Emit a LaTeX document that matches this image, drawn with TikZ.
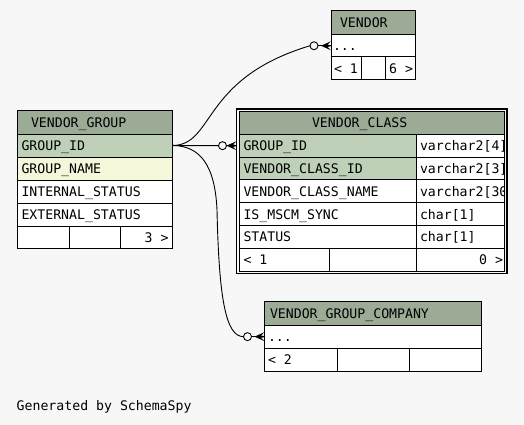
\documentclass[tikz,border=0pt]{standalone}
\usepackage{fontspec}
\newfontfamily\dmono{DejaVu Sans Mono}
\usetikzlibrary{calc}
\definecolor{bg}{HTML}{F7F7F7}
\definecolor{head}{HTML}{9BAB96}
\definecolor{pk}{HTML}{BED1B8}
\definecolor{idx}{HTML}{F4F7DA}
\newcommand\crowfoot[1]{%
  \fill ($(#1)+(-10,0)$) -- ($(#1)+(0,-4.5)$) -- ($(#1)+(-3.5,-1.2)$) -- ($(#1)+(0,-0.4)$)
     -- ($(#1)+(0,0.4)$) -- ($(#1)+(-3.5,1.2)$) -- ($(#1)+(0,4.5)$) -- cycle;}
\begin{document}
\begin{tikzpicture}[x=1pt,y=-1pt,
  cell/.style={draw=black, line width=1pt, inner sep=0pt, outer sep=0pt, anchor=north west, fill=white},
  txt/.style={font=\dmono\fontsize{13.2}{15}\selectfont, inner sep=0pt, outer sep=0pt, anchor=base west},
  txtr/.style={txt, anchor=base east},
  odot/.style={circle, draw=black, line width=0.9pt, fill=bg, minimum size=8pt, inner sep=0pt, outer sep=0pt},
  conn/.style={draw=black, line width=0.9pt},
]
\fill[bg] (0,0) rectangle (524,425);
\useasboundingbox (0,0) rectangle (524,425);

% ---------------- VENDOR ----------------
\node[cell, fill=head, minimum width=84pt, minimum height=23.5pt] (v-head) at (331,11) {};
\node[cell, minimum width=84pt, minimum height=22.5pt] (v-dots) at (331,34.5) {};
\node[cell, minimum width=30.7pt, minimum height=23pt] (v-f1) at (331,57) {};
\node[cell, minimum width=23.6pt, minimum height=23pt] (v-f2) at (361.7,57) {};
\node[cell, minimum width=29.7pt, minimum height=23pt] (v-f3) at (385.3,57) {};
\node[txt] (v-head-t) at (340,27.75) {VENDOR};
\node[txt] (v-dots-t) at (333,50.75) {...};
\node[txt] (v-f1-t) at (334,73.5) {< 1};
\node[txtr] (v-f3-t) at (413,73.5) {6 >};

% ---------------- VENDOR_GROUP ----------------
\node[cell, fill=head, minimum width=154.7pt, minimum height=23pt] (vg-head) at (17.3,111) {};
\node[cell, fill=pk, minimum width=154.7pt, minimum height=23pt] (vg-gid) at (17.3,134) {};
\node[cell, fill=idx, minimum width=154.7pt, minimum height=23pt] (vg-gname) at (17.3,157) {};
\node[cell, minimum width=154.7pt, minimum height=23pt] (vg-istat) at (17.3,180) {};
\node[cell, minimum width=154.7pt, minimum height=23pt] (vg-estat) at (17.3,203) {};
\node[cell, minimum width=52pt, minimum height=22.5pt] (vg-f1) at (17.3,226) {};
\node[cell, minimum width=51pt, minimum height=22.5pt] (vg-f2) at (69.3,226) {};
\node[cell, minimum width=51.7pt, minimum height=22.5pt] (vg-f3) at (120.3,226) {};
\node[txt] (vg-head-t) at (31,127.5) {VENDOR\_GROUP};
\node[txt] (vg-gid-t) at (21.5,150.5) {GROUP\_ID};
\node[txt] (vg-gname-t) at (21.5,173.5) {GROUP\_NAME};
\node[txt] (vg-istat-t) at (21.5,196.5) {INTERNAL\_STATUS};
\node[txt] (vg-estat-t) at (21.5,219.5) {EXTERNAL\_STATUS};
\node[txtr] (vg-f3-t) at (168.5,242.25) {3 >};

% ---------------- VENDOR_CLASS ----------------
\node[draw=black, line width=1.8pt, inner sep=0pt, outer sep=0pt, anchor=north west,
      minimum width=270.8pt, minimum height=164.2pt] (vc-frame) at (236.5,109.3) {};
\node[cell, fill=head, minimum width=265pt, minimum height=22.8pt] (vc-head) at (239.5,111.5) {};
\node[cell, fill=pk, minimum width=176.5pt, minimum height=22.8pt] (vc-gid) at (239.5,134.3) {};
\node[cell, minimum width=88.5pt, minimum height=22.8pt] (vc-gid-ty) at (416,134.3) {};
\node[cell, fill=pk, minimum width=176.5pt, minimum height=22.8pt] (vc-cid) at (239.5,157.1) {};
\node[cell, minimum width=88.5pt, minimum height=22.8pt] (vc-cid-ty) at (416,157.1) {};
\node[cell, minimum width=176.5pt, minimum height=22.8pt] (vc-cname) at (239.5,179.9) {};
\node[cell, minimum width=88.5pt, minimum height=22.8pt] (vc-cname-ty) at (416,179.9) {};
\node[cell, minimum width=176.5pt, minimum height=22.8pt] (vc-sync) at (239.5,202.7) {};
\node[cell, minimum width=88.5pt, minimum height=22.8pt] (vc-sync-ty) at (416,202.7) {};
\node[cell, minimum width=176.5pt, minimum height=22.8pt] (vc-stat) at (239.5,225.5) {};
\node[cell, minimum width=88.5pt, minimum height=22.8pt] (vc-stat-ty) at (416,225.5) {};
\node[cell, minimum width=89.5pt, minimum height=22.8pt] (vc-f1) at (239.5,248.3) {};
\node[cell, minimum width=87pt, minimum height=22.8pt] (vc-f2) at (329,248.3) {};
\node[cell, minimum width=88.5pt, minimum height=22.8pt] (vc-f3) at (416,248.3) {};
\node[txt] (vc-head-t) at (312,127.9) {VENDOR\_CLASS};
\node[txt] (vc-gid-t) at (243.5,150.7) {GROUP\_ID};
\node[txt] (vc-gid-tyt) at (420,150.7) {varchar2[4]};
\node[txt] (vc-cid-t) at (243.5,173.5) {VENDOR\_CLASS\_ID};
\node[txt] (vc-cid-tyt) at (420,173.5) {varchar2[3]};
\node[txt] (vc-cname-t) at (243.5,196.3) {VENDOR\_CLASS\_NAME};
\begin{scope}
  \clip (416,179.9) rectangle (504.5,202.7);
  \node[txt] (vc-cname-tyt) at (420,196.3) {varchar2[30]};
\end{scope}
\node[txt] (vc-sync-t) at (243.5,219.1) {IS\_MSCM\_SYNC};
\node[txt] (vc-sync-tyt) at (420,219.1) {char[1]};
\node[txt] (vc-stat-t) at (243.5,241.9) {STATUS};
\node[txt] (vc-stat-tyt) at (420,241.9) {char[1]};
\node[txt] (vc-f1-t) at (243.5,264.7) {< 1};
\node[txtr] (vc-f3-t) at (503,264.7) {0 >};

% ---------------- VENDOR_GROUP_COMPANY ----------------
\node[cell, fill=head, minimum width=216.8pt, minimum height=23.3pt] (vgc-head) at (264.5,301.7) {};
\node[cell, minimum width=216.8pt, minimum height=23.3pt] (vgc-dots) at (264.5,325) {};
\node[cell, minimum width=72.8pt, minimum height=22.7pt] (vgc-f1) at (264.5,348.3) {};
\node[cell, minimum width=72pt, minimum height=22.7pt] (vgc-f2) at (337.3,348.3) {};
\node[cell, minimum width=72pt, minimum height=22.7pt] (vgc-f3) at (409.3,348.3) {};
\node[txt] (vgc-head-t) at (270,318.35) {VENDOR\_GROUP\_COMPANY};
\node[txt] (vgc-dots-t) at (268,341.65) {...};
\node[txt] (vgc-f1-t) at (268,364.65) {< 2};

% ---------------- footer text ----------------
\node[txt] (gen) at (16.7,410.7) {Generated by SchemaSpy};

% ---------------- connectors ----------------
\coordinate (vc-port) at (vc-frame.west |- vc-gid.west);
\node[odot] (o1) at ($(v-dots.west)+(-17,0)$) {};
\node[odot] (o2) at ($(vc-port)+(-14,0)$) {};
\node[odot] (o3) at ($(vgc-dots.west)+(-17,0)$) {};
\coordinate (k3) at (217,210);

\draw[conn] (vg-gid.east) .. controls +(43,0) and +(-110,33) .. (o1.west);
\draw[conn] (o1.east) -- (v-dots.west);
\crowfoot{v-dots.west}

\draw[conn] (vg-gid.east) -- (o2.west);
\draw[conn] (o2.east) -- (vc-port);
\crowfoot{vc-port}

\draw[conn] (vg-gid.east) .. controls +(28,0) and +(-2,-45) .. (k3)
            .. controls +(2,90) and +(-17.5,0) .. (o3.west);
\draw[conn] (o3.east) -- (vgc-dots.west);
\crowfoot{vgc-dots.west}
\end{tikzpicture}
\end{document}
